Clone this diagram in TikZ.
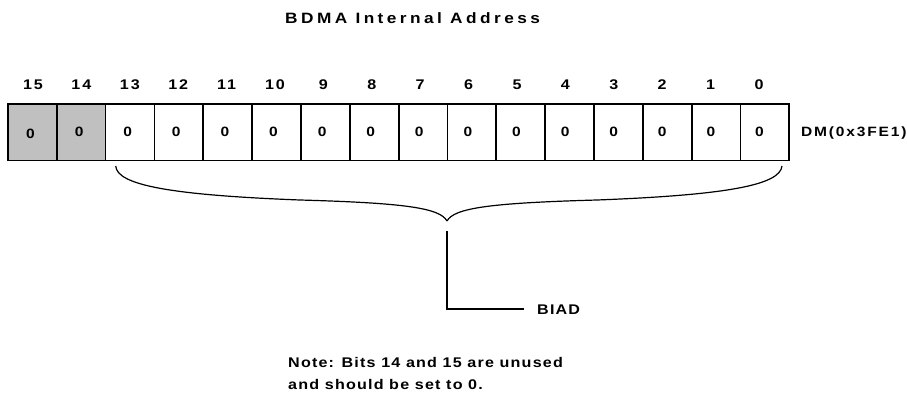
\documentclass[tikz,border=0pt]{standalone}
\usepackage{fontspec}
\setmainfont{Liberation Sans}
\definecolor{unusedgray}{RGB}{192,192,192}
\begin{document}
\begin{tikzpicture}[x=1pt,y=-1pt,
  lbl/.style={inner sep=0pt, font=\fontsize{14}{16}\selectfont\bfseries\addfontfeature{FakeStretch=1.15,LetterSpace=14}},
  val/.style={inner sep=0pt, font=\fontsize{13.5}{15}\selectfont\bfseries\addfontfeature{FakeStretch=1.15,LetterSpace=10}},
  reg/.style={inner sep=0pt, font=\fontsize{13.5}{15}\selectfont\bfseries\addfontfeature{FakeStretch=1.15,LetterSpace=13.5}},
  ttl/.style={inner sep=0pt, font=\fontsize{15}{17}\selectfont\bfseries\addfontfeature{FakeStretch=1.15,LetterSpace=23}},
  txt/.style={inner sep=0pt, font=\fontsize{14}{16}\selectfont\bfseries\addfontfeature{FakeStretch=1.15,LetterSpace=8.5}},
  cell/.style={draw, line width=1.8pt, minimum width=48.84pt, minimum height=56.6pt, inner sep=0pt, anchor=north west},
  unused/.style={cell, fill=unusedgray},
  brace/.style={line width=1.2pt},
  lead/.style={line width=1.6pt}]
\useasboundingbox (0,0) rectangle (907,393);
% title
\node[ttl, anchor=base west] (title) at (285,24) {BDMA Internal Address};
% cells
\foreach \i in {0,...,15}{
  \pgfmathsetmacro{\xx}{7+48.84*(15-\i)}
  \ifnum\i>13
    \node[unused] (c\i) at (\xx,103) {};
  \else
    \node[cell] (c\i) at (\xx,103) {};
  \fi
}
% bit numbers and values
\foreach \i in {0,...,15}{
  \pgfmathsetmacro{\lx}{33+48.4*(15-\i)}
  \pgfmathsetmacro{\vx}{30.5+48.6*(15-\i)}
  \node[lbl, anchor=base] (b\i) at (\lx,89.5) {\i};
  \ifnum\i=15
    \node[val, anchor=base] (v\i) at (\vx,139) {0};
  \else
    \node[val, anchor=base] (v\i) at (\vx,136.5) {0};
  \fi
}
\node[reg, anchor=base west] (dm) at (801,136.5) {DM(0x3FE1)};
% brace
\coordinate (bl) at (115.7,166);
\coordinate (br) at (782,166);
\coordinate (tip) at (447,221);
\draw[brace] (bl) .. controls (117,185) and (170,195) .. (300,200)
  .. controls (405,203) and (440,208) .. (tip);
\draw[brace] (br) .. controls (780,185) and (727,195) .. (597,200)
  .. controls (490,203) and (454,208) .. (tip);
% leader to BIAD
\node[txt, anchor=base west] (biad) at (537,314) {BIAD};
\coordinate (ltop) at (447,231);
\coordinate (lcorner) at (447,309);
\coordinate (lend) at (524,309);
\draw[lead] (ltop) -- (lcorner) -- (lend);
% note
\node[txt, anchor=base west] (note1) at (288,367.3) {Note: Bits 14 and 15 are unused};
\node[txt, anchor=base west] (note2) at (288,389.5) {and should be set to 0.};
\end{tikzpicture}
\end{document}
